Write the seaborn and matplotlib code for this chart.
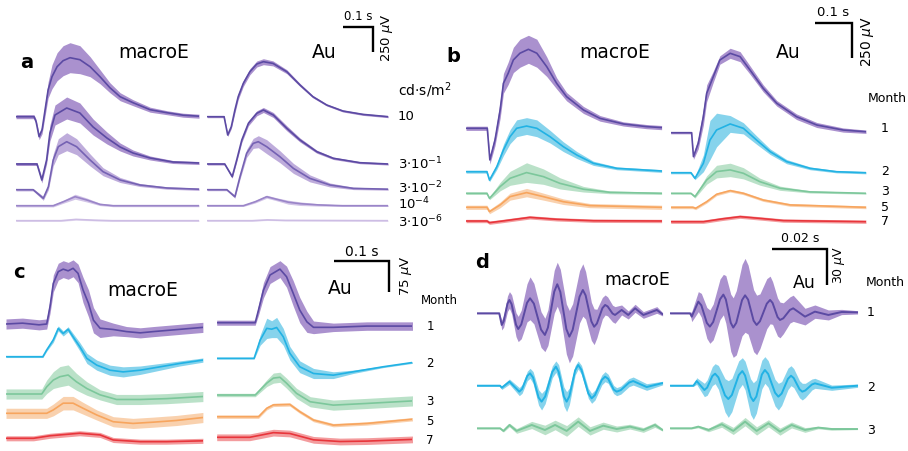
import numpy as np
import matplotlib
matplotlib.use("Agg")
import matplotlib.pyplot as plt
import seaborn as sns

W, H = 908, 451

# ---------------- data (time in ms, amplitude in µV, band half-width in µV) -------------
# Panel a: flash intensities (cd·s/m²)
A_LABELS = ["10", r"$\mathregular{3{\cdot}10^{-1}}$", r"$\mathregular{3{\cdot}10^{-2}}$",
            r"$\mathregular{10^{-4}}$", r"$\mathregular{3{\cdot}10^{-6}}$"]
A_ME_10 = ([0, 60, 67, 77, 87, 97, 107, 120, 137, 157, 180, 213, 247, 280, 313, 347, 390, 447, 503, 557, 610],
           [0, 0, -50, -200, -130, 70, 267, 400, 500, 560, 590, 570, 500, 400, 290, 200, 140, 70, 40, 15, 5],
           [20, 20, 25, 30, 40, 60, 80, 120, 140, 150, 150, 140, 100, 70, 50, 40, 30, 25, 20, 20, 20])
A_ME_3E1 = ([0, 70, 86, 102, 113, 130, 169, 213, 257, 303, 347, 390, 447, 523, 610],
            [0, 0, -160, 40, 310, 490, 560, 510, 370, 260, 170, 110, 60, 20, 10],
            [15, 15, 30, 40, 80, 100, 110, 100, 80, 60, 40, 30, 20, 15, 15])
A_ME_3E2 = ([0, 57, 91, 108, 124, 141, 169, 202, 247, 290, 347, 413, 503, 610],
            [0, 0, -86, 30, 297, 430, 480, 430, 297, 180, 97, 47, 17, 5],
            [12, 12, 20, 30, 60, 80, 90, 80, 60, 40, 25, 15, 12, 12])
A_ME_1E4 = ([0, 124, 158, 197, 236, 280, 324, 610],
            [0, 0, 40, 90, 57, 13, 0, 0],
            [12, 12, 15, 25, 20, 12, 10, 10])
A_ME_3E6 = ([0, 150, 200, 260, 320, 610],
            [0, 0, 13, 5, 0, 0],
            [8, 8, 8, 8, 8, 8])
A_AU_10 = ([0, 56, 68, 80, 92, 103, 120, 142, 165, 187, 219, 265, 309, 352, 398, 452, 519, 603],
           [0, 0, -183, -100, 67, 200, 333, 450, 527, 550, 533, 450, 317, 200, 117, 57, 23, 0],
           [10, 10, 15, 20, 30, 30, 30, 30, 30, 30, 25, 20, 15, 12, 10, 10, 10, 10])
A_AU_3E1 = ([0, 58, 83, 98, 115, 137, 165, 187, 220, 265, 309, 365, 420, 509, 603],
            [0, 0, -127, 40, 240, 407, 507, 540, 490, 357, 240, 123, 57, 13, 0],
            [10, 10, 15, 20, 25, 25, 25, 25, 25, 25, 20, 15, 12, 10, 10])
A_AU_3E2 = ([0, 65, 92, 109, 131, 153, 170, 198, 242, 287, 342, 409, 487, 603],
            [0, 0, -70, 130, 363, 463, 480, 430, 330, 213, 113, 47, 13, 5],
            [10, 10, 15, 25, 40, 50, 60, 70, 60, 50, 35, 20, 12, 10])
A_AU_1E4 = ([0, 120, 160, 198, 230, 270, 310, 370, 450, 603],
            [0, 0, 40, 90, 65, 35, 20, 8, 0, 0],
            [8, 8, 12, 15, 15, 20, 18, 12, 8, 8])
A_AU_3E6 = ([0, 150, 200, 260, 603],
            [0, 0, 8, 3, 0],
            [6, 6, 6, 6, 6])

# Panel b: months, 10 cd·s/m²
MONTHS = ["1", "2", "3", "5", "7"]
B_ME_1 = ([0, 58, 65, 79, 93, 102, 115, 129, 147, 170, 193, 220, 247, 274, 320, 365, 429, 492, 533],
          [0, 0, -226, -84, 131, 321, 393, 488, 536, 564, 536, 440, 321, 226, 131, 71, 31, 12, 5],
          [15, 15, 30, 40, 60, 70, 80, 90, 100, 100, 100, 70, 40, 30, 25, 20, 15, 15, 15])
B_ME_2 = ([0, 57, 64, 84, 102, 120, 138, 165, 193, 229, 265, 302, 347, 411, 533],
          [0, 0, -60, 36, 155, 250, 310, 326, 310, 250, 179, 119, 60, 24, 5],
          [10, 10, 12, 20, 40, 50, 60, 60, 60, 45, 35, 25, 15, 10, 10])
B_ME_3 = ([0, 57, 64, 93, 120, 165, 211, 256, 320, 392, 533],
          [0, 0, -36, 48, 107, 148, 119, 71, 29, 7, 0],
          [8, 8, 10, 30, 50, 70, 55, 40, 20, 10, 8])
B_ME_5 = ([0, 57, 64, 93, 120, 165, 211, 265, 338, 533],
          [0, 0, -31, 17, 76, 105, 76, 40, 12, 0],
          [15, 15, 15, 20, 25, 30, 25, 20, 15, 15])
B_ME_7 = ([0, 57, 64, 100, 174, 247, 347, 533],
          [0, 0, -12, 0, 26, 12, 2, 0],
          [12, 12, 12, 12, 12, 12, 12, 12])
B_AU_1 = ([0, 57, 62, 75, 89, 98, 116, 134, 162, 189, 216, 252, 289, 343, 398, 470, 532],
          [0, 0, -171, -76, 114, 281, 400, 519, 567, 543, 448, 317, 210, 114, 55, 19, 7],
          [8, 8, 20, 40, 60, 60, 40, 30, 36, 36, 30, 25, 20, 20, 18, 15, 12])
B_AU_2 = ([0, 55, 66, 89, 107, 125, 162, 198, 234, 271, 316, 380, 452, 532],
          [0, 0, -40, 67, 233, 305, 348, 317, 233, 150, 79, 31, 7, 0],
          [8, 8, 10, 60, 140, 120, 60, 40, 30, 20, 15, 10, 8, 8])
B_AU_3 = ([0, 55, 66, 98, 125, 162, 198, 243, 298, 380, 532],
          [0, 0, -24, 95, 155, 167, 143, 83, 36, 10, 0],
          [6, 6, 10, 30, 45, 48, 40, 25, 15, 8, 6])
B_AU_5 = ([0, 60, 68, 98, 125, 162, 198, 252, 325, 532],
          [0, 0, -7, 40, 93, 119, 100, 52, 17, 0],
          [10, 10, 10, 10, 10, 10, 10, 10, 10, 10])
B_AU_7 = ([0, 89, 140, 189, 250, 307, 532],
          [0, 0, 20, 36, 22, 8, 0],
          [12, 12, 12, 12, 12, 12, 12])

# Panel c: photopic responses
C_ME_1 = ([0, 30, 60, 74, 80, 86, 95, 104, 113, 122, 131, 140, 150, 159, 171, 195, 219, 244, 268, 304, 358],
          [0, 2, -2, 0, 41, 96, 124, 130, 126, 132, 120, 81, 49, 9, -10, -13, -18, -21, -18, -14, -8],
          [12, 12, 12, 12, 16, 20, 20, 20, 20, 20, 22, 30, 32, 30, 22, 15, 12, 12, 12, 12, 12])
C_ME_2 = ([0, 67, 74, 86, 95, 104, 113, 122, 134, 147, 165, 189, 213, 244, 280, 316, 358],
          [0, 0, 16, 40, 67, 55, 65, 47, 24, -4, -20, -32, -36, -32, -24, -16, -8],
          [2, 2, 3, 6, 6, 6, 6, 8, 10, 12, 12, 12, 12, 10, 8, 6, 5])
C_ME_3 = ([0, 65, 74, 86, 98, 113, 128, 147, 171, 201, 244, 292, 358],
          [0, 0, 17, 33, 41, 45, 29, 13, -2, -13, -13, -11, -6],
          [12, 12, 16, 20, 24, 24, 20, 16, 12, 12, 12, 12, 12])
C_ME_5 = ([0, 74, 86, 104, 122, 140, 165, 195, 231, 268, 310, 358],
          [0, 0, 8, 24, 24, 12, -4, -20, -24, -21, -17, -10],
          [12, 12, 14, 16, 16, 14, 12, 12, 12, 12, 12, 12])
C_ME_7 = ([0, 50, 80, 134, 171, 195, 244, 292, 358],
          [0, 0, 6, 12, 8, -4, -8, -8, -6],
          [6, 6, 6, 6, 6, 6, 6, 6, 6])
C_AU_1 = ([0, 70, 76, 85, 97, 115, 127, 139, 151, 164, 176, 212, 273, 356],
          [0, 0, 30, 77, 113, 127, 109, 70, 30, 2, -11, -11, -8, -8],
          [6, 6, 12, 18, 20, 20, 25, 30, 30, 25, 15, 10, 10, 10])
C_AU_2 = ([0, 68, 79, 91, 100, 109, 121, 133, 151, 176, 212, 248, 303, 356],
          [0, 0, 43, 71, 69, 73, 51, 12, -20, -36, -40, -32, -20, -10],
          [2, 2, 12, 24, 20, 24, 20, 16, 14, 12, 8, 4, 2, 2])
C_AU_3 = ([0, 70, 91, 103, 115, 127, 145, 170, 212, 273, 356],
          [0, 0, 28, 40, 42, 28, 4, -16, -24, -20, -14],
          [4, 4, 8, 12, 12, 12, 12, 12, 12, 12, 12])
C_AU_5 = ([0, 76, 91, 103, 133, 151, 176, 212, 273, 356],
          [0, 0, 20, 28, 29, 12, -8, -20, -16, -6],
          [4, 4, 4, 4, 4, 4, 4, 4, 4, 4])
C_AU_7 = ([0, 60, 103, 133, 176, 224, 273, 356],
          [0, 0, 11, 9, -6, -10, -9, -5],
          [8, 8, 8, 8, 8, 8, 8, 8])

# Panel d: oscillatory potentials
D_MONTHS = ["1", "2", "3"]
D_ME_1 = ([0, 8.2, 9.1, 9.8, 11.2, 11.9, 12.7, 14.3, 15.1, 16.2, 18.3, 19.4, 20.8, 23.4, 24.8, 25.9, 28.2, 29.3,
           30.4, 32.6, 33.7, 34.9, 37.4, 38.6, 39.6, 41.7, 42.7, 43.7, 45.7, 46.7, 47.6, 49.4, 50.3, 52.7, 55.1,
           57.6, 60.6, 65.5, 67.6],
          [0, 0, -9.8, -6.7, 8.1, 11.2, 7.6, -9.6, -13.2, -9.4, 8.8, 12.6, 8.1, -13.7, -18.2, -12.0, 18.2, 24.4,
           18.0, -13.2, -19.6, -13.9, 13.9, 19.6, 15.1, -6.8, -11.3, -8.6, 4.3, 7.0, 5.8, -0.2, -1.4, 2.8, -1.4,
           4.2, -1.4, 2.8, -0.8],
          [0.5, 0.5, 4.2, 5, 6.5, 7, 8, 10, 10.6, 12, 16, 18, 17, 15, 14, 15, 18, 18.5,
           19, 21, 22, 22, 22, 22, 20, 16, 15, 12, 9, 8.4, 8, 7, 7, 4.2, 3.4,
           3.4, 2.8, 2.8, 1.4])
D_AU_1 = ([0, 7.3, 7.9, 10.3, 11.4, 13.4, 14.5, 15.7, 18.2, 19.4, 20.3, 22.1, 23.0, 24.1, 26.2, 27.3, 28.4, 30.4,
           31.5, 32.7, 35.2, 36.4, 37.3, 39.1, 40.0, 41.2, 43.6, 44.8, 49.1, 52.7, 57.6, 62.4, 68.2],
          [0, 0, -2.8, 9.8, 6.7, -8.1, -11.2, -7.3, 11.8, 15.7, 11.7, -8.0, -12.0, -8.0, 11.1, 15.1, 11.5, -6.2,
           -9.8, -6.7, 8.1, 11.2, 8.7, -3.1, -5.6, -4.2, 2.8, 4.2, -2.8, 1.4, -1.4, 1.1, 0.8],
          [0.5, 0.5, 4.2, 8.4, 10, 13, 14, 15, 17, 17, 20, 24, 25, 27, 30, 31, 29, 26,
           25, 23, 21, 20, 18, 16, 15, 13, 11, 11, 7, 5.6, 4.2, 2.2, 1.4])
D_ME_2 = ([0, 8.5, 9.1, 11.9, 15.5, 16.5, 18.4, 19.4, 20.5, 22.5, 23.6, 24.9, 27.5, 28.8, 29.8, 31.7, 32.7,
           33.7, 35.8, 36.9, 38.1, 40.6, 41.8, 43.0, 45.5, 46.7, 47.8, 49.8, 50.9, 52.4, 55.4, 56.9, 61.8, 67.6],
          [0, 0, -1.7, 3.4, -5.0, -2.8, 8.2, 10.4, 6.9, -9.9, -13.4, -9.1, 11.7, 16.0, 11.7, -9.1, -13.4,
           -8.9, 12.9, 17.4, 13.3, -6.5, -10.6, -7.9, 4.9, 7.6, 5.8, -3.2, -5.0, -3.7, 2.6, 3.9, -1.1, 2.2],
          [0.5, 0.5, 1.5, 2.2, 3.4, 3.6, 4, 4.2, 5, 6.5, 7, 6, 5, 4.8, 6, 8, 8.4,
           7, 4, 3.4, 3.8, 4.2, 4.2, 4.2, 4.2, 4.2, 3.8, 3.4, 3.4, 3.4, 3.4, 3.4, 2.8, 1.5])
D_AU_2 = ([0, 8.5, 9.7, 12.5, 13.5, 15.4, 16.4, 17.6, 20.0, 21.2, 22.5, 25.0, 26.3, 27.3, 29.3, 30.3, 31.4,
           33.4, 34.5, 35.7, 38.2, 39.4, 40.6, 42.9, 44.0, 45.0, 47.1, 48.1, 49.2, 51.6, 52.7, 58.8, 68.2],
          [0, 0, 3.9, -3.6, -1.6, 8.1, 10.1, 7.0, -8.1, -11.2, -7.8, 8.9, 12.3, 8.6, -9.2, -12.9, -9.1,
           9.4, 13.2, 9.9, -5.9, -9.2, -6.6, 5.8, 8.4, 6.4, -3.0, -5.0, -4.0, 1.0, 2.0, -1.7, 0],
          [0.5, 0.5, 2.8, 5.6, 6.5, 8, 8.4, 10, 14, 15.4, 14, 12, 11.2, 12, 15, 15.4, 14,
           12, 11.2, 11.2, 11.2, 11.2, 10, 9, 8.4, 8, 7.2, 7, 6, 4.6, 4.2, 2.2, 1.4])
D_ME_3 = ([0, 8.5, 9.7, 11.9, 14.5, 20.0, 24.8, 28.5, 32.7, 36.9, 41.2, 46.0, 50.9, 55.7, 60.6, 64.8, 67.6],
          [0, 0, -2.2, 2.8, -2.2, 2.8, -1.4, 2.8, -2.2, 5.6, -2.2, 2.2, -0.6, 1.4, -1.4, 2.8, -1.4],
          [0.5, 0.5, 1, 1.5, 2, 3, 4, 4, 4.5, 4, 3.5, 3, 2.5, 2, 2, 2, 1])
D_AU_3 = ([0, 7.9, 10.3, 14.0, 18.8, 23.0, 27.3, 31.5, 35.8, 40.0, 44.2, 49.1, 53.9, 58.8, 68.2],
          [0, 0, 1.4, -1.4, 3.4, -2.2, 5.6, -2.2, 4.2, -2.8, 2.8, -1.4, 0.6, -0.6, -0.6],
          [0.5, 0.5, 1, 1.5, 2.5, 3, 3.5, 3.5, 3, 3, 2.5, 2, 1, 1, 0.5])

# ---------------- styling ----------------
sns.set_theme(style="white")
plt.rcParams['font.family'] = ['DejaVu Sans']
plt.rcParams['mathtext.fontset'] = 'dejavusans'

PURPLE = ("#5b4aa3", "#8e6cbe")
CYAN = ("#22b2e4", "#5ec5e6")
GREEN = ("#7cc79b", "#a3d8b6")
ORANGE = ("#f7a55e", "#f8c293")
RED = ("#e8353b", "#f07b7e")
MONTH_COLORS = [PURPLE, CYAN, GREEN, ORANGE, RED]
A_COLORS = [("#5b4aa3", "#8e6cbe"), ("#5b4aa3", "#8e6cbe"), ("#7562b3", "#a990d0"),
            ("#9a85c8", "#c3b0e0"), ("#cdbde4", "#e2d7f0")]

fig = plt.figure(figsize=(W / 100, H / 100), dpi=100)


def px_axes(x0, x1, ytop, ybot, pxms, uvpp, yref):
    ax = fig.add_axes([x0 / W, 1 - ybot / H, (x1 - x0) / W, (ybot - ytop) / H])
    ax.set_xlim(0, (x1 - x0) / pxms)
    ax.set_ylim(-(ybot - yref) * uvpp, (yref - ytop) * uvpp)
    ax.set_axis_off()
    ax.patch.set_alpha(0)
    ax.uvpp = uvpp
    ax.yref = yref
    return ax


def trace(ax, data, base_px, colors, lw=1.2, alpha=0.75):
    t, v, sd = (np.asarray(d, dtype=float) for d in data)
    off = (ax.yref - base_px) * ax.uvpp
    ax.fill_between(t, v + off - sd, v + off + sd, color=colors[1], alpha=alpha, lw=0)
    sns.lineplot(x=t, y=v + off, ax=ax, color=colors[0], lw=lw, sort=False, estimator=None)


def scalebar(ax, xc_px, yc_px, dt, dv):
    xc, yc = ax.transData.inverted().transform((xc_px, H - yc_px))
    ax.plot([xc - dt, xc, xc], [yc, yc, yc - dv], color="black", lw=1.7,
            clip_on=False, solid_joinstyle="miter", solid_capstyle="butt")


def txt(x, y, s, size=10, **kw):
    kw.setdefault("ha", "center")
    kw.setdefault("va", "center")
    fig.text(x / W, 1 - y / H, s, fontsize=size, color="black", **kw)


# ---------------- panel a ----------------
a_base = [116.7, 164, 189.7, 205.7, 220.7]
ax_a1 = px_axes(16, 199, 30, 232, 0.3, 10, 220.7)
ax_a2 = px_axes(207.3, 388, 30, 232, 0.3, 10, 220.7)
for d, b, c in zip([A_ME_10, A_ME_3E1, A_ME_3E2, A_ME_1E4, A_ME_3E6], a_base, A_COLORS):
    trace(ax_a1, d, b, c)
for d, b, c in zip([A_AU_10, A_AU_3E1, A_AU_3E2, A_AU_1E4, A_AU_3E6], a_base, A_COLORS):
    trace(ax_a2, d, b, c)
scalebar(ax_a2, 373, 27.3, 100, 250)
txt(27, 63, "a", 14, fontweight="bold")
txt(154, 53, "macroE", 13.5)
txt(324, 53, "Au", 13.5)
txt(358, 17, "0.1 s", 8.5)
txt(387, 38, r"250 $\mu$V", 9.5, rotation=90)
txt(398, 90, r"cd·s/m$^2$", 10, ha="left")
for lab, y in zip(A_LABELS, [117, 164, 187.5, 204, 222]):
    txt(398, y, lab, 9.5, ha="left")

# ---------------- panel b ----------------
b_me_base = [128.3, 171.7, 193.3, 207.3, 221]
b_au_base = [132.7, 172.7, 193.3, 207.3, 221.7]
ax_b1 = px_axes(466, 661.7, 10, 232, 0.367, 7.14, 221)
ax_b2 = px_axes(670.7, 866, 10, 232, 0.367, 7.14, 221)
for d, b, c in zip([B_ME_1, B_ME_2, B_ME_3, B_ME_5, B_ME_7], b_me_base, MONTH_COLORS):
    trace(ax_b1, d, b, c)
for d, b, c in zip([B_AU_1, B_AU_2, B_AU_3, B_AU_5, B_AU_7], b_au_base, MONTH_COLORS):
    trace(ax_b2, d, b, c)
scalebar(ax_b2, 851.7, 23.3, 100, 250)
txt(453, 57, "b", 14, fontweight="bold")
txt(615, 53, "macroE", 13.5)
txt(788, 53, "Au", 13.5)
txt(833, 13, "0.1 s", 9.5)
txt(868, 41, r"250 $\mu$V", 10, rotation=90)
txt(887, 98, "Month", 9)
for lab, y in zip(MONTHS, [128.3, 171.7, 191.7, 207.3, 221.7]):
    txt(885, y, lab, 9)

# ---------------- panel c ----------------
c_me_base = [324, 356.7, 394, 413.3, 438.3]
c_au_base = [322.7, 358.3, 395, 416.7, 437.3]
ax_c1 = px_axes(6, 202.7, 250, 451, 0.55, 2.37, 440)
ax_c2 = px_axes(216.7, 412.3, 250, 451, 0.55, 2.37, 440)
for d, b, c in zip([C_ME_1, C_ME_2, C_ME_3, C_ME_5, C_ME_7], c_me_base, MONTH_COLORS):
    trace(ax_c1, d, b, c)
for d, b, c in zip([C_AU_1, C_AU_2, C_AU_3, C_AU_5, C_AU_7], c_au_base, MONTH_COLORS):
    trace(ax_c2, d, b, c)
scalebar(ax_c2, 389.3, 260.7, 100, 75)
txt(19, 273, "c", 14, fontweight="bold")
txt(143, 290, "macroE", 13.5)
txt(340, 289, "Au", 13.5)
txt(362, 252, "0.1 s", 10)
txt(406, 276, r"75 $\mu$V", 9.5, rotation=90)
txt(439, 301, "Month", 8.5)
for lab, y in zip(MONTHS, [326, 363.3, 401.7, 421.7, 441]):
    txt(430, y, lab, 8.5)

# ---------------- panel d ----------------
d_base = [313.3, 385.7, 428.3]
ax_d1 = px_axes(476.7, 663.3, 240, 451, 2.75, 0.84, 430)
ax_d2 = px_axes(670, 858, 240, 451, 2.75, 0.84, 430)
for d, b, c in zip([D_ME_1, D_ME_2, D_ME_3], d_base, MONTH_COLORS):
    trace(ax_d1, d, b, c, lw=1.4)
for d, b, c in zip([D_AU_1, D_AU_2, D_AU_3], d_base, MONTH_COLORS):
    trace(ax_d2, d, b, c, lw=1.4)
scalebar(ax_d2, 826.7, 249.3, 20, 30)
txt(482, 263, "d", 14, fontweight="bold")
txt(637, 280, "macroE", 12.5)
txt(804, 283, "Au", 12.5)
txt(800, 238, "0.02 s", 9)
txt(839, 265, r"30 $\mu$V", 9, rotation=90)
txt(885, 282, "Month", 9)
for lab, y in zip(D_MONTHS, [312.3, 387.3, 430]):
    txt(871, y, lab, 9)

fig.savefig("out.png", dpi=100, facecolor="white")
